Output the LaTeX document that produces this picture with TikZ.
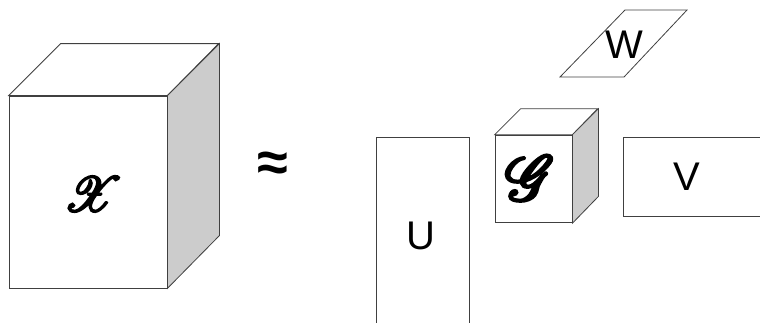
\documentclass[tikz,border=0pt]{standalone}
\usepackage{fontspec}
\setmainfont{Liberation Sans}
\usepackage{mathrsfs}
\usetikzlibrary{positioning}

\definecolor{edgegray}{HTML}{404040}
\definecolor{sidegray}{HTML}{CCCCCC}

% heavier script letter: fill and stroke the glyph outline
\newcommand{\heavyscr}[1]{%
  \special{pdf:literal direct 2 Tr 0.45 w 0 0 0 RG}%
  $\mathscr{#1}$%
  \special{pdf:literal direct 0 Tr}}

\tikzset{
    face/.style={draw=edgegray, line width=0.8pt, fill=white},
    box/.style={rectangle, face, inner sep=0pt},
    lbl/.style={font=\fontsize{40}{42}\selectfont, text=black},
    scr/.style={text=black, inner sep=0pt}
}

\begin{document}
\begin{tikzpicture}[x=1pt, y=-1pt]
    \useasboundingbox (0,0) rectangle (760,322);
    \clip (0,0) rectangle (760,322);

    % big cube
    \node [box, minimum width=158pt, minimum height=192pt] (X) at (88,192) {};
    \draw [face] (X.north west) -- ++(52,-52) -- ++(158,0) -- (X.north east) -- cycle;
    \draw [face, fill=sidegray] (X.north east) -- ++(52,-52) -- ++(0,192) -- (X.south east) -- cycle;
    \node [scr] (xlbl) at (93,194) {\scalebox{4.9}{\heavyscr{X}}};

    \node [font=\fontsize{56}{56}\selectfont\bfseries] (approx) at (273,167) {≈};

    % factors
    \node [box, minimum width=92.6pt, minimum height=198pt] (U) at (423,236) {};
    \node [lbl] (ulbl) at (420.5,236) {U};

    \node [box, minimum width=77pt, minimum height=87.7pt] (G) at (533.5,179) {};
    \draw [face] (G.north west) -- ++(26,-26) -- ++(77,0) -- (G.north east) -- cycle;
    \draw [face, fill=sidegray] (G.north east) -- ++(26,-26) -- ++(0,87.7) -- (G.south east) -- cycle;
    \node [scr] (glbl) at (530,178) {\scalebox{6.3}{\heavyscr{G}}};

    \node [box, minimum width=180pt, minimum height=78.3pt, anchor=west] (V) at (623,177) {};
    \node [lbl] (vlbl) at (687,177) {V};

    \node [lbl] (W) at (624,45) {W};
    \draw [face, fill=none] ([shift={(-64,32)}]W.center) -- ++(64,0) -- ++(63,-67) -- ++(-62,0) -- cycle;
\end{tikzpicture}
\end{document}
